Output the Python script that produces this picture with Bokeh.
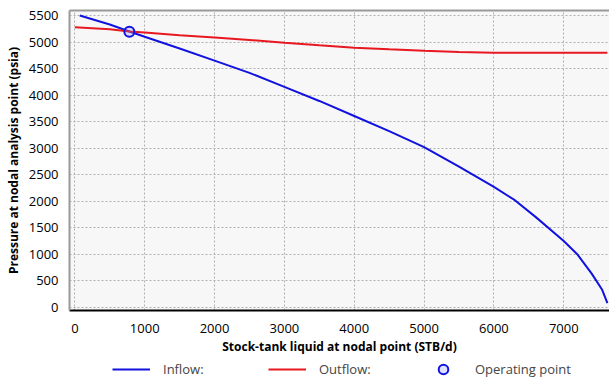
from bokeh.plotting import figure
from bokeh.models import Range1d, LinearAxis, Legend, LegendItem, FixedTicker
from bokeh.layouts import column
from bokeh.embed import file_html
from bokeh.resources import INLINE

# Inflow (IPR) curve
inflow_q = [70, 500, 780, 1000, 1500, 2000, 2500, 3000, 3500, 4000, 4500, 5000,
            5500, 6000, 6300, 6600, 7000, 7200, 7400, 7550, 7625]
inflow_p = [5500, 5330, 5200, 5100, 4880, 4650, 4420, 4155, 3890, 3606, 3320, 3019,
            2650, 2269, 2020, 1700, 1249, 990, 635, 330, 80]

# Outflow (VLP) curve
outflow_q = [0, 500, 780, 1000, 1500, 2000, 2500, 3000, 3500, 4000, 4500, 5000,
             5500, 6000, 6500, 7000, 7625]
outflow_p = [5280, 5240, 5200, 5180, 5130, 5087, 5040, 4988, 4940, 4894, 4865, 4838,
             4815, 4800, 4800, 4800, 4800]

# Operating point
op_q = [780]
op_p = [5195]

x_ticks = [0, 1000, 2000, 3000, 4000, 5000, 6000, 7000]
y_ticks = [0, 500, 1000, 1500, 2000, 2500, 3000, 3500, 4000, 4500, 5000, 5500]

FONT = "Open Sans"
BLUE = "#1212e0"
RED = "#e81820"

p = figure(width=609, height=357, output_backend="svg", toolbar_location=None,
           x_range=Range1d(-77, 7655), y_range=Range1d(-60, 5595),
           min_border_left=69, min_border_right=0, min_border_top=10,
           min_border_bottom=46)

p.background_fill_color = "#f7f7f7"
p.border_fill_color = "white"
p.outline_line_color = None

bottom_ax = p.below[0]
left_ax = p.left[0]

bottom_ax.ticker = FixedTicker(ticks=x_ticks)
left_ax.ticker = FixedTicker(ticks=y_ticks)

for ax in [bottom_ax, left_ax]:
    ax.major_tick_line_color = None
    ax.minor_tick_line_color = None
    ax.major_label_text_font = FONT
    ax.major_label_text_font_size = "13px"
    ax.major_label_text_color = "black"
    ax.axis_label_text_font = FONT
    ax.axis_label_text_font_size = "12px"
    ax.axis_label_text_font_style = "bold"
    ax.axis_label_text_color = "black"

bottom_ax.axis_label = "Stock-tank liquid at nodal point (STB/d)"
left_ax.axis_label = "Pressure at nodal analysis point (psia)"
bottom_ax.axis_line_color = "black"
bottom_ax.axis_line_width = 2
bottom_ax.major_label_standoff = 7
bottom_ax.axis_label_standoff = 2
left_ax.axis_line_color = "#999999"
left_ax.axis_line_width = 2
left_ax.major_label_standoff = 5
left_ax.axis_label_standoff = 4

# top border
top_ax = LinearAxis(ticker=FixedTicker(ticks=[]), axis_line_color="#999999",
                    axis_line_width=2, major_tick_line_color=None,
                    minor_tick_line_color=None, major_label_text_font_size="0px",
                    major_label_standoff=0)
p.add_layout(top_ax, "above")

for g in [p.xgrid[0], p.ygrid[0]]:
    g.grid_line_color = "#b0b0b0"
    g.grid_line_dash = "2 2"
    g.grid_line_width = 1

p.line(inflow_q, inflow_p, line_color=BLUE, line_width=2)
p.line(outflow_q, outflow_p, line_color=RED, line_width=2)
p.scatter(op_q, op_p, marker="circle", size=10, line_color=BLUE,
          line_width=2, fill_color="#8080ff", fill_alpha=0.25)

# legend strip (renderers drawn from the same data, kept out of view)
lg = figure(width=609, height=24, output_backend="svg", toolbar_location=None,
            x_axis_type=None, y_axis_type=None,
            x_range=Range1d(-3, -2), y_range=Range1d(-3, -2),
            min_border_left=0, min_border_right=0, min_border_top=0,
            min_border_bottom=0)
lg.outline_line_color = None
lg.background_fill_color = "white"
lg.border_fill_color = "white"
lg.grid.visible = False

l_in = lg.line(inflow_q, inflow_p, line_color=BLUE, line_width=2)
l_out = lg.line(outflow_q, outflow_p, line_color=RED, line_width=2)
l_op = lg.scatter(op_q, op_p, marker="circle", size=10, line_color=BLUE,
                  line_width=2, fill_color="#8080ff", fill_alpha=0.25)

leg = Legend(items=[LegendItem(label="Inflow:", renderers=[l_in]),
                    LegendItem(label="Outflow:", renderers=[l_out]),
                    LegendItem(label="Operating point", renderers=[l_op])],
             orientation="horizontal", location=(43, 0),
             glyph_width=38, glyph_height=24, label_standoff=13,
             label_width=100, spacing=5, padding=0, margin=0,
             border_line_color=None, background_fill_alpha=0,
             label_text_font=FONT, label_text_font_size="13px")
lg.add_layout(leg)

layout = column(p, lg, spacing=0)
open("out.html", "w").write(file_html(layout, INLINE))
